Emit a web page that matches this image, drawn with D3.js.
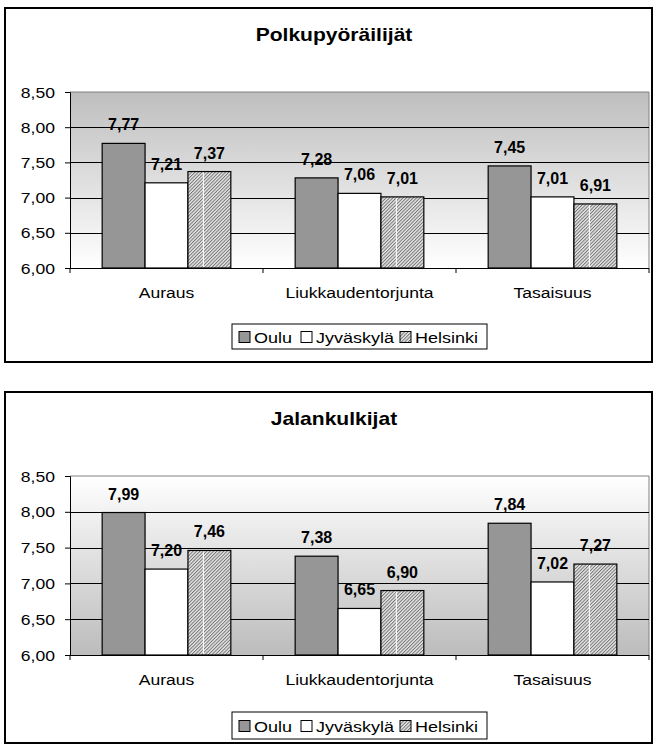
<!DOCTYPE html>
<html>
<head>
<meta charset="utf-8">
<script src="https://cdn.jsdelivr.net/npm/d3@7"></script>
<style>
  body { margin: 0; background: #fff; }
  svg { display: block; font-family: "Liberation Sans", Arial, sans-serif; }
</style>
</head>
<body>
<svg id="chart" width="656" height="744"></svg>
<script>
const categories = ['Auraus', 'Liukkaudentorjunta', 'Tasaisuus'];
const seriesNames = ['Oulu', 'Jyväskylä', 'Helsinki'];
const yTicks = [6.0, 6.5, 7.0, 7.5, 8.0, 8.5];

const pyoraOulu = [7.77, 7.28, 7.45];
const pyoraJkl = [7.21, 7.06, 7.01];
const pyoraHki = [7.37, 7.01, 6.91];

const jalkaOulu = [7.99, 7.38, 7.84];
const jalkaJkl = [7.20, 6.65, 7.02];
const jalkaHki = [7.46, 6.90, 7.27];

const svg = d3.select('#chart');
const fmt = v => d3.format('.2f')(v).replace('.', ',');
const SX = 1.17; // text in the picture is a bit wide

const defs = svg.append('defs');
const hatch = defs.append('pattern')
    .attr('id', 'hatch')
    .attr('patternUnits', 'userSpaceOnUse')
    .attr('width', 2.4)
    .attr('height', 2.4)
    .attr('patternTransform', 'rotate(45)');
hatch.append('rect').attr('width', 2.4).attr('height', 2.4).attr('fill', '#e6e6e6');
hatch.append('line').attr('x1', 0.5).attr('y1', 0).attr('x2', 0.5).attr('y2', 2.4)
    .attr('stroke', '#6a6a6a').attr('stroke-width', 0.9);

function gradient(id, top, bottom) {
    const g = defs.append('linearGradient').attr('id', id)
        .attr('x1', 0).attr('y1', 0).attr('x2', 0).attr('y2', 1);
    g.append('stop').attr('offset', '0%').attr('stop-color', top);
    g.append('stop').attr('offset', '100%').attr('stop-color', bottom);
}
gradient('bgTop', '#bebebe', '#ffffff');
gradient('bgBottom', '#ffffff', '#bcbcbc');

const fills = ['#969696', '#ffffff', 'url(#hatch)'];

function stretchText(parent, x, y, str, size, weight, anchor, sx) {
    return parent.append('text')
        .attr('transform', `translate(${x},${y}) scale(${sx},1)`)
        .attr('text-anchor', anchor)
        .attr('font-size', size)
        .attr('font-weight', weight)
        .attr('fill', '#000')
        .text(str);
}

function drawChart(cfg) {
    const g = svg.append('g').attr('transform', `translate(0,${cfg.top})`);
    const plot = { left: 70, right: 649, top: 84, bottom: 84 + cfg.plotH };

    // outer frame
    g.append('rect')
        .attr('x', 5).attr('y', 0)
        .attr('width', 647).attr('height', cfg.frameH)
        .attr('fill', '#fff').attr('stroke', '#000').attr('stroke-width', 2);

    stretchText(g, 334, 33, cfg.title, 18, 'bold', 'middle', 1.17);

    const x0 = d3.scaleBand().domain(categories).range([plot.left, plot.right]);
    const step = x0.bandwidth();
    const x1 = d3.scaleBand().domain(seriesNames).range([step / 6, step * 5 / 6]);
    const y = d3.scaleLinear().domain([6, 8.5]).range([plot.bottom, plot.top]);

    g.append('rect')
        .attr('x', plot.left).attr('y', plot.top)
        .attr('width', plot.right - plot.left).attr('height', plot.bottom - plot.top)
        .attr('fill', `url(#${cfg.bg})`);

    // plot area border (top and right, gray)
    g.append('path')
        .attr('d', `M${plot.left},${y(8.5)}H${plot.right}V${plot.bottom}`)
        .attr('fill', 'none').attr('stroke', '#808080').attr('stroke-width', 1);

    g.selectAll('.grid')
        .data(yTicks.filter(t => t > 6 && t < 8.5))
        .enter().append('line')
        .attr('x1', plot.left).attr('x2', plot.right)
        .attr('y1', d => Math.round(y(d)) + 0.5).attr('y2', d => Math.round(y(d)) + 0.5)
        .attr('stroke', '#000').attr('stroke-width', 1);

    const data = categories.map((c, i) => ({
        cat: c,
        vals: seriesNames.map((s, j) => ({ s, j, v: cfg.series[j][i] }))
    }));

    const groups = g.selectAll('.grp').data(data).enter().append('g')
        .attr('transform', d => `translate(${x0(d.cat)},0)`);

    groups.selectAll('rect').data(d => d.vals).enter().append('rect')
        .attr('x', d => x1(d.s))
        .attr('y', d => y(d.v))
        .attr('width', x1.bandwidth())
        .attr('height', d => plot.bottom - y(d.v))
        .attr('fill', d => fills[d.j])
        .attr('stroke', '#000').attr('stroke-width', 1.2);

    // light streak seen inside the hatched bars
    groups.selectAll('.streak').data(d => d.vals.filter(v => v.j === 2)).enter().append('line')
        .attr('x1', d => x1(d.s) + x1.bandwidth() * 0.36)
        .attr('x2', d => x1(d.s) + x1.bandwidth() * 0.36)
        .attr('y1', d => y(d.v) + 1).attr('y2', plot.bottom - 1)
        .attr('stroke', '#fff').attr('stroke-width', 1);

    groups.selectAll('.lbl').data(d => d.vals).enter().append('g')
        .each(function (d) {
            stretchText(d3.select(this), x1(d.s) + x1.bandwidth() / 2, y(d.v) - 13,
                fmt(d.v), 16, 'bold', 'middle', 1.0);
        });

    const yAxis = g.append('g')
        .attr('transform', `translate(${plot.left},0)`)
        .call(d3.axisLeft(y).tickValues(yTicks).tickSize(5).tickFormat(fmt));
    yAxis.select('.domain').attr('stroke', '#000');
    yAxis.selectAll('.tick line').attr('stroke', '#000');
    yAxis.selectAll('.tick text')
        .attr('x', null).attr('dy', null)
        .attr('transform', `translate(-15,5) scale(${SX},1)`)
        .attr('font-size', 15).attr('font-family', null).attr('fill', '#000');

    const xAxis = g.append('g')
        .attr('transform', `translate(0,${plot.bottom})`)
        .call(d3.axisBottom(x0).tickSize(0).tickFormat(''));
    xAxis.select('.domain').attr('stroke', '#000').attr('d', `M${plot.left},0.5H${plot.right}`);
    g.selectAll('.xtick')
        .data(categories.map(c => x0(c)).concat([plot.right]))
        .enter().append('line')
        .attr('x1', d => d).attr('x2', d => d)
        .attr('y1', plot.bottom).attr('y2', plot.bottom + 5)
        .attr('stroke', '#000');
    categories.forEach(c => {
        stretchText(g, x0(c) + step / 2, plot.bottom + 30, c, 15, 'normal', 'middle', SX);
    });

    // legend
    const lg = g.append('g').attr('transform', `translate(232,${cfg.legendY})`);
    lg.append('rect').attr('x', 0).attr('y', 0).attr('width', 255).attr('height', cfg.legendH)
        .attr('fill', '#fff').attr('stroke', '#000').attr('stroke-width', 1);
    const itemX = [7, 69, 168];
    seriesNames.forEach((s, j) => {
        lg.append('rect')
            .attr('x', itemX[j]).attr('y', cfg.legendH / 2 - 5)
            .attr('width', 11).attr('height', 11)
            .attr('fill', fills[j]).attr('stroke', '#000').attr('stroke-width', 1);
        stretchText(lg, itemX[j] + 15, cfg.legendH / 2 + 6, s, 15, 'normal', 'start', 1.2);
    });
}

drawChart({
    title: 'Polkupyöräilijät',
    top: 8, frameH: 354, plotH: 176,
    bg: 'bgTop', legendY: 316, legendH: 25,
    series: [pyoraOulu, pyoraJkl, pyoraHki]
});

drawChart({
    title: 'Jalankulkijat',
    top: 392, frameH: 351, plotH: 179,
    bg: 'bgBottom', legendY: 320, legendH: 27,
    series: [jalkaOulu, jalkaJkl, jalkaHki]
});
</script>
</body>
</html>
